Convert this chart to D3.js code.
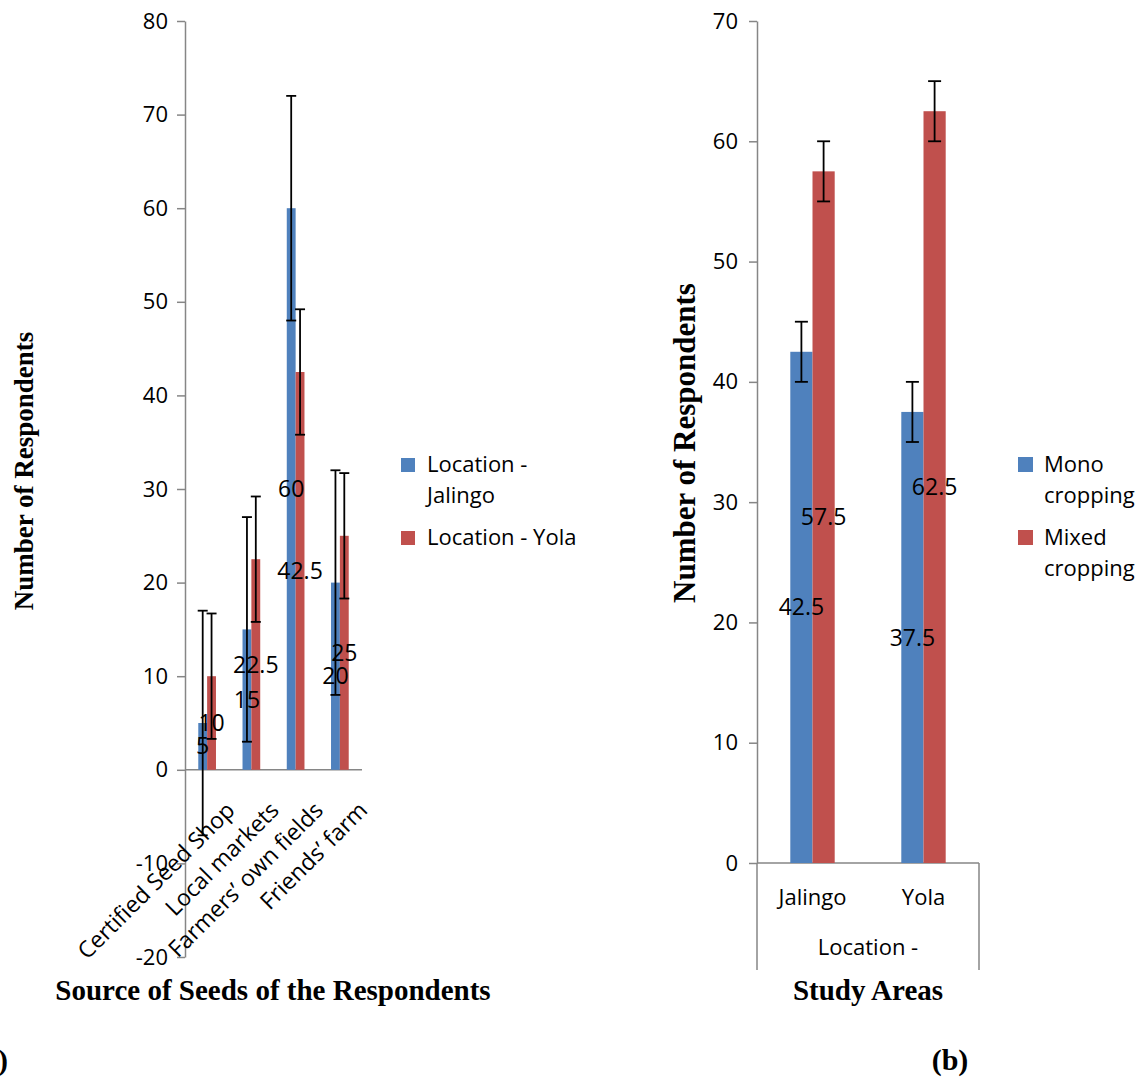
<!DOCTYPE html>
<html>
<head>
<meta charset="utf-8">
<script src="https://cdn.jsdelivr.net/npm/d3@7"></script>
<style>
  body { margin: 0; background: #fff; }
  svg text { font-family: "Open Sans", "Noto Sans", sans-serif; }
  .ttl { font-family: "Liberation Serif", "Times New Roman", serif !important; font-weight: bold; }
</style>
</head>
<body>
<svg id="plot"></svg>
<script>
const width = 1143;
const height = 1081;

// (a) source of seeds
let seedSources = ['Certified Seed Shop', 'Local markets', 'Farmers’ own fields', 'Friends’ farm'];
let seedJalingo = [5, 15, 60, 20];
let seedYola = [10, 22.5, 42.5, 25];
let seedJalingoErr = [12, 12, 12, 12];
let seedYolaErr = [6.7, 6.7, 6.7, 6.7];
let seedTicks = [-20, -10, 0, 10, 20, 30, 40, 50, 60, 70, 80];
let seedLegend = [['Location -', 'Jalingo'], ['Location - Yola']];

// (b) cropping system
let areas = ['Jalingo', 'Yola'];
let mono = [42.5, 37.5];
let mixed = [57.5, 62.5];
let monoErr = [2.5, 2.5];
let mixedErr = [2.5, 2.5];
let cropTicks = [0, 10, 20, 30, 40, 50, 60, 70];
let cropLegend = [['Mono', 'cropping'], ['Mixed', 'cropping']];

const colors = ['#4F81BD', '#C0504D'];
const axisColor = '#868686';

let svg;


function main(){
  svg = d3.select('svg#plot')
  .attr('width', width)
  .attr('height', height);

  drawSeeds();
  drawCrops();

  svg.append('text').attr('class', 'ttl')
  .attr('x', 8).attr('y', 1070)
  .attr('text-anchor', 'end')
  .attr('font-size', 30)
  .text('(a)');
  svg.append('text').attr('class', 'ttl')
  .attr('x', 950).attr('y', 1070)
  .attr('text-anchor', 'middle')
  .attr('font-size', 30)
  .text('(b)');
}


function bars(g, cats, series, errs, sx, sy, capW){
  // series: array of value arrays, one per legend entry
  let bw = sx.bandwidth() * 0.2;
  let sx1 = d3.scaleBand().domain(d3.range(series.length)).range([-bw, bw]);

  let rows = [];
  series.forEach((vals, s)=>{
    vals.forEach((v, i)=>{
      rows.push({cat: cats[i], s: s, v: v, e: errs[s][i]});
    });
  });
  let cx = d=>sx(d.cat) + sx.bandwidth()/2 + sx1(d.s) + sx1.bandwidth()/2;

  g.selectAll('.bar')
  .data(rows)
  .enter()
  .append('rect')
  .attr('class', 'bar')
  .attr('x', d=>cx(d) - sx1.bandwidth()/2)
  .attr('y', d=>sy(d.v))
  .attr('width', sx1.bandwidth())
  .attr('height', d=>sy(0) - sy(d.v))
  .attr('fill', d=>colors[d.s]);

  let eb = g.selectAll('.err')
  .data(rows)
  .enter()
  .append('g')
  .attr('class', 'err')
  .attr('stroke', '#000')
  .attr('stroke-width', 1.8);
  eb.append('line')
  .attr('x1', cx).attr('x2', cx)
  .attr('y1', d=>sy(d.v + d.e)).attr('y2', d=>sy(d.v - d.e));
  eb.append('line')
  .attr('x1', d=>cx(d) - capW/2).attr('x2', d=>cx(d) + capW/2)
  .attr('y1', d=>sy(d.v + d.e)).attr('y2', d=>sy(d.v + d.e));
  eb.append('line')
  .attr('x1', d=>cx(d) - capW/2).attr('x2', d=>cx(d) + capW/2)
  .attr('y1', d=>sy(d.v - d.e)).attr('y2', d=>sy(d.v - d.e));

  g.selectAll('.lbl')
  .data(rows)
  .enter()
  .append('text')
  .attr('class', 'lbl')
  .attr('x', cx)
  .attr('y', d=>sy(d.v/2))
  .attr('dy', '0.35em')
  .attr('text-anchor', 'middle')
  .attr('font-size', 23)
  .attr('fill', '#000')
  .text(d=>d.v);
}


function legend(g, x, y, lines, box){
  let rowY = y;
  lines.forEach((ln, s)=>{
    g.append('rect')
    .attr('x', x).attr('y', rowY - box)
    .attr('width', box).attr('height', box)
    .attr('fill', colors[s]);
    ln.forEach((t, k)=>{
      g.append('text')
      .attr('x', x + 26).attr('y', rowY + k*31)
      .attr('font-size', 22)
      .text(t);
    });
    rowY += (ln.length - 1)*31 + 42;
  });
}


function styleAxis(ax){
  ax.select('.domain').attr('stroke', axisColor).attr('stroke-width', 1.5);
  ax.selectAll('.tick line').attr('stroke', axisColor).attr('stroke-width', 1.5);
  ax.selectAll('.tick text').attr('font-size', 22).attr('fill', '#000')
  .attr('font-family', '"Open Sans", sans-serif');
}


function drawSeeds(){
  let g = svg.append('g');
  let sx = d3.scaleBand().domain(seedSources).range([185, 362]);
  let sy = d3.scaleLinear().domain([-20, 80]).range([957, 21]);

  let ay = g.append('g')
  .attr('transform', 'translate(185,0)')
  .call(d3.axisLeft(sy).tickValues(seedTicks).tickFormat(d=>String(d))
    .tickSize(8).tickSizeOuter(0).tickPadding(9));
  styleAxis(ay);

  g.append('line')
  .attr('x1', sx.range()[0]).attr('x2', sx.range()[1])
  .attr('y1', sy(0)).attr('y2', sy(0))
  .attr('stroke', axisColor).attr('stroke-width', 1.5);

  bars(g, seedSources, [seedJalingo, seedYola], [seedJalingoErr, seedYolaErr], sx, sy, 10);

  g.selectAll('.xl')
  .data(seedSources)
  .enter()
  .append('text')
  .attr('class', 'xl')
  .attr('text-anchor', 'end')
  .attr('font-size', 23)
  .attr('transform', d=>`translate(${sx(d) + sx.bandwidth()/2 + 29},${sy(0) + 42}) rotate(-45)`)
  .text(d=>d);

  legend(g, 401, 472, seedLegend, 14);

  g.append('text').attr('class', 'ttl')
  .attr('transform', 'translate(33,471) rotate(-90)')
  .attr('text-anchor', 'middle')
  .attr('font-size', 27)
  .text('Number of Respondents');

  g.append('text').attr('class', 'ttl')
  .attr('x', 273).attr('y', 1000)
  .attr('text-anchor', 'middle')
  .attr('font-size', 29)
  .text('Source of Seeds of the Respondents');
}


function drawCrops(){
  let g = svg.append('g');
  let sx = d3.scaleBand().domain(areas).range([757, 979]);
  let sy = d3.scaleLinear().domain([0, 70]).range([863, 21]);
  let bottom = 970;

  let ay = g.append('g')
  .attr('transform', 'translate(757,0)')
  .call(d3.axisLeft(sy).tickValues(cropTicks).tickFormat(d=>String(d))
    .tickSize(8).tickSizeOuter(0).tickPadding(11));
  styleAxis(ay);

  // category axis with the outer "Location -" level
  g.append('line')
  .attr('x1', sx.range()[0]).attr('x2', sx.range()[1])
  .attr('y1', sy(0)).attr('y2', sy(0))
  .attr('stroke', axisColor).attr('stroke-width', 1.5);
  sx.range().forEach(x=>{
    g.append('line')
    .attr('x1', x).attr('x2', x)
    .attr('y1', sy(0)).attr('y2', bottom)
    .attr('stroke', axisColor).attr('stroke-width', 1.5);
  });

  bars(g, areas, [mono, mixed], [monoErr, mixedErr], sx, sy, 13);

  g.selectAll('.xl')
  .data(areas)
  .enter()
  .append('text')
  .attr('class', 'xl')
  .attr('x', d=>sx(d) + sx.bandwidth()/2)
  .attr('y', sy(0) + 42)
  .attr('text-anchor', 'middle')
  .attr('font-size', 22)
  .text(d=>d);

  g.append('text')
  .attr('x', d3.mean(sx.range()))
  .attr('y', sy(0) + 92)
  .attr('text-anchor', 'middle')
  .attr('font-size', 22)
  .text('Location -');

  legend(g, 1018, 472, cropLegend, 15);

  g.append('text').attr('class', 'ttl')
  .attr('transform', 'translate(695,443) rotate(-90)')
  .attr('text-anchor', 'middle')
  .attr('font-size', 31)
  .text('Number of Respondents');

  g.append('text').attr('class', 'ttl')
  .attr('x', 868).attr('y', 1000)
  .attr('text-anchor', 'middle')
  .attr('font-size', 29)
  .text('Study Areas');
}


document.addEventListener('DOMContentLoaded', main);
</script>
</body>
</html>
